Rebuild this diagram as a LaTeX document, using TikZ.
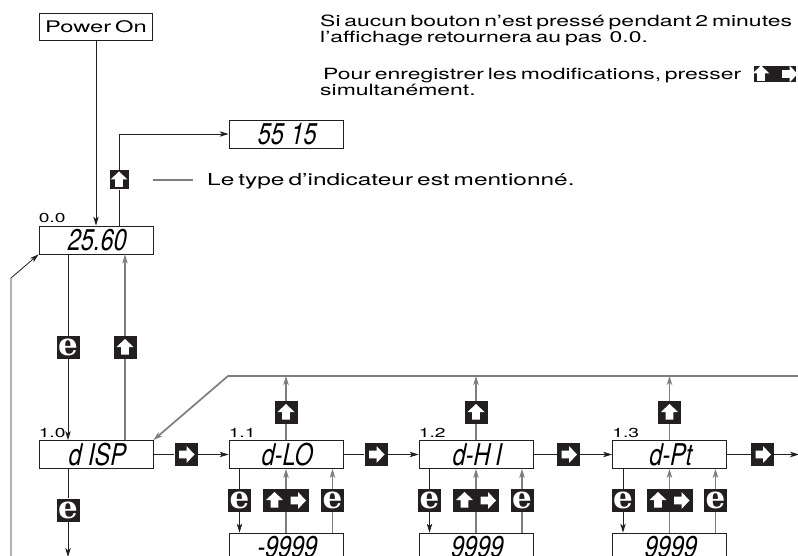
\documentclass[tikz,border=0pt]{standalone}
\usepackage{fontspec}
\setmainfont{TeX Gyre Heros}[FakeStretch=1.48,WordSpace=0.6]
\newfontfamily\segfont{TeX Gyre Heros}[FakeSlant=0.2,FakeStretch=0.78]
\newfontfamily\keyfont{DejaVu Serif}
\usepackage{xcolor}
\usepackage{tikz}
\usetikzlibrary{positioning,arrows.meta}
\definecolor{DSInk}{HTML}{231F20}
\definecolor{DSGrey}{HTML}{7E7E7E}
\newcommand{\DSup}[2]{\fill[white,scale=#2] (path picture bounding box.center) ++(#1,0) ++(0,-8.5) -- ++(8.5,8) -- ++(-4.7,0) -- ++(0,7.5) -- ++(-7.6,0) -- ++(0,-7.5) -- ++(-4.7,0) -- cycle;}
\newcommand{\DSright}[2]{\fill[white,scale=#2] (path picture bounding box.center) ++(#1,0) ++(8.5,0) -- ++(-8,8.5) -- ++(0,-4.7) -- ++(-7.5,0) -- ++(0,-7.6) -- ++(7.5,0) -- ++(0,-4.7) -- cycle;}

\begin{document}
\begin{tikzpicture}[x=1pt,y=-1pt,
  ln/.style={draw=DSInk,line width=0.8pt},
  gl/.style={draw=DSGrey,line width=1.2pt},
  fwd/.style={-{Stealth[length=9pt,width=5.5pt,inset=2.5pt]}},
  plain/.style={draw=DSInk,line width=0.8pt,minimum width=113pt,minimum height=27pt,inner sep=0pt,font=\fontsize{16}{16}\selectfont},
  disp/.style={draw=DSInk,line width=0.8pt,minimum width=114pt,minimum height=28pt,inner sep=0pt,font=\segfont\fontsize{30}{30}\selectfont},
  stepno/.style={anchor=base west,inner sep=0pt,font=\fontsize{13}{13}\selectfont},
  note/.style={anchor=base west,inner sep=0pt,font=\fontsize{15.5}{15.5}\selectfont},
  key/.style={fill=DSInk,inner sep=0pt,minimum width=23pt,minimum height=23pt},
  ekey/.style={key,text=white,font=\keyfont\bfseries\fontsize{31}{31}\selectfont},
  upkey/.style={key,path picture={\DSup{0}{1}}},
  rkey/.style={key,path picture={\DSright{0}{1}}},
  bothkey/.style={key,minimum width=46pt,path picture={\DSup{-11.5}{1}\DSright{11.5}{1}}},
  smallupkey/.style={key,minimum width=19pt,minimum height=19pt,path picture={\DSup{0}{0.8}}},
  notekey/.style={key,minimum width=42pt,minimum height=16pt,path picture={\DSup{-14}{0.75}\DSright{14}{0.75}}}]
\clip (0,0) rectangle (798,556);

\node[note] (note1) at (320,27) {Si aucun bouton n’est pressé pendant 2 minutes};
\node[note] (note2) at (320,43) {l’affichage retournera au pas\ \ 0.0.};
\node[note] (note3) at (323,80) {Pour enregistrer les modifications, presser};
\node[notekey] (note3key) at (775,74) {};
\node[note] (note4) at (320,96) {simultanément.};

\node[plain] (power) at (96,26.5) {Power On};
\node[disp] (n00) at (96,240) {25.60};
\node[stepno] (n00no) at ([yshift=3pt]n00.north west) {0.0};
\node[disp] (type) at (286,134) {55 15};
\node[smallupkey] (typekey) at (119,180) {};
\node[note,font=\fontsize{16.5}{16.5}\selectfont] (typenote) at (207,186) {Le type d’indicateur est mentionné.};
\draw[gl] ([xshift=24.5pt]typekey.east) -- ([xshift=-14pt]typenote.base west |- typekey);

\node[ekey] (e00) at (68,347.5) {e};
\node[upkey] (u00) at (125,347.5) {};
\node[disp] (n10) at (96,454.5) {d ISP};
\node[stepno] (n10no) at ([yshift=3pt]n10.north west) {1.0};
\node[ekey] (e10) at (68,510) {e};
\node[rkey] (r10) at (186,454.5) {};

\node[disp] (n11) at (286,454.5) {d-LO};
\node[stepno] (n11no) at ([yshift=3pt]n11.north west) {1.1};
\node[upkey] (u11) at (286,412.5) {};
\node[rkey] (r11) at (376,454.5) {};
\node[ekey] (a11) at (239.5,500.5) {e};
\node[bothkey] (b11) at (286,500.5) {};
\node[ekey] (c11) at (332.5,500.5) {e};
\node[disp] (s11) at (286,547) {-9999};

\node[disp] (n12) at (476,454.5) {d-H\,I};
\node[stepno] (n12no) at ([yshift=3pt]n12.north west) {1.2};
\node[upkey] (u12) at (476,412.5) {};
\node[rkey] (r12) at (568.5,454.5) {};
\node[ekey] (a12) at (429.5,500.5) {e};
\node[bothkey] (b12) at (476,500.5) {};
\node[ekey] (c12) at (522,500.5) {e};
\node[disp] (s12) at (476,547) {9999};

\node[disp] (n13) at (669.5,454.5) {d-Pt};
\node[stepno] (n13no) at ([yshift=3pt]n13.north west) {1.3};
\node[upkey] (u13) at (669.5,412.5) {};
\node[rkey] (r13) at (762.5,454.5) {};
\node[ekey] (a13) at (623,500.5) {e};
\node[bothkey] (b13) at (669.5,500.5) {};
\node[ekey] (c13) at (715.5,500.5) {e};
\node[disp] (s13) at (669.5,547) {9999};

\coordinate (exit) at (68,557);
\coordinate (back) at (11,557);
\coordinate (backbend) at (11,278);
\coordinate (loopR) at (799,376);
\coordinate (loopL) at (228,376);
\coordinate (next) at (799,454.5);

\draw[ln,fwd] (power) -- (n00);
\draw[ln] (n00.north -| typekey) -- (typekey);
\draw[ln,fwd] (typekey) |- (type);
\draw[ln] (n00.south -| e00) -- (e00);
\draw[ln,fwd] (e00) -- (e00 |- n10.north);
\draw[gl] (n10.north -| u00) -- (u00);
\draw[gl,fwd] (u00) -- (u00 |- n00.south);
\draw[ln] (n10.south -| e10) -- (e10);
\draw[ln,fwd] (e10) -- (exit);
\draw[ln,fwd] (back) -- (backbend) -- (n00.south west);
\draw[gl,line width=1.7pt,fwd] (loopR) -- (loopL) -- (n10.north east);

\draw[ln] (n10) -- (r10);
\draw[ln,fwd] (r10) -- (n11);
\draw[ln] (n11) -- (r11);
\draw[ln,fwd] (r11) -- (n12);
\draw[ln] (n12) -- (r12);
\draw[ln,fwd] (r12) -- (n13);
\draw[ln] (n13) -- (r13);
\draw[ln,fwd] (r13) -- (next);

\draw[gl] (n11) -- (u11);
\draw[gl,fwd] (u11) -- (u11 |- loopL);
\draw[gl] (n12) -- (u12);
\draw[gl,fwd] (u12) -- (u12 |- loopL);
\draw[gl] (n13) -- (u13);
\draw[gl,fwd] (u13) -- (u13 |- loopL);

\draw[ln] (n11.south -| a11) -- (a11);
\draw[ln,fwd] (a11) -- (a11 |- s11.north);
\draw[gl] (s11) -- (b11);
\draw[gl,fwd] (b11) -- (n11);
\draw[gl] (s11.north -| c11) -- (c11);
\draw[gl,fwd] (c11) -- (c11 |- n11.south);

\draw[ln] (n12.south -| a12) -- (a12);
\draw[ln,fwd] (a12) -- (a12 |- s12.north);
\draw[gl] (s12) -- (b12);
\draw[gl,fwd] (b12) -- (n12);
\draw[gl] (s12.north -| c12) -- (c12);
\draw[gl,fwd] (c12) -- (c12 |- n12.south);

\draw[ln] (n13.south -| a13) -- (a13);
\draw[ln,fwd] (a13) -- (a13 |- s13.north);
\draw[gl] (s13) -- (b13);
\draw[gl,fwd] (b13) -- (n13);
\draw[gl] (s13.north -| c13) -- (c13);
\draw[gl,fwd] (c13) -- (c13 |- n13.south);
\end{tikzpicture}
\end{document}
